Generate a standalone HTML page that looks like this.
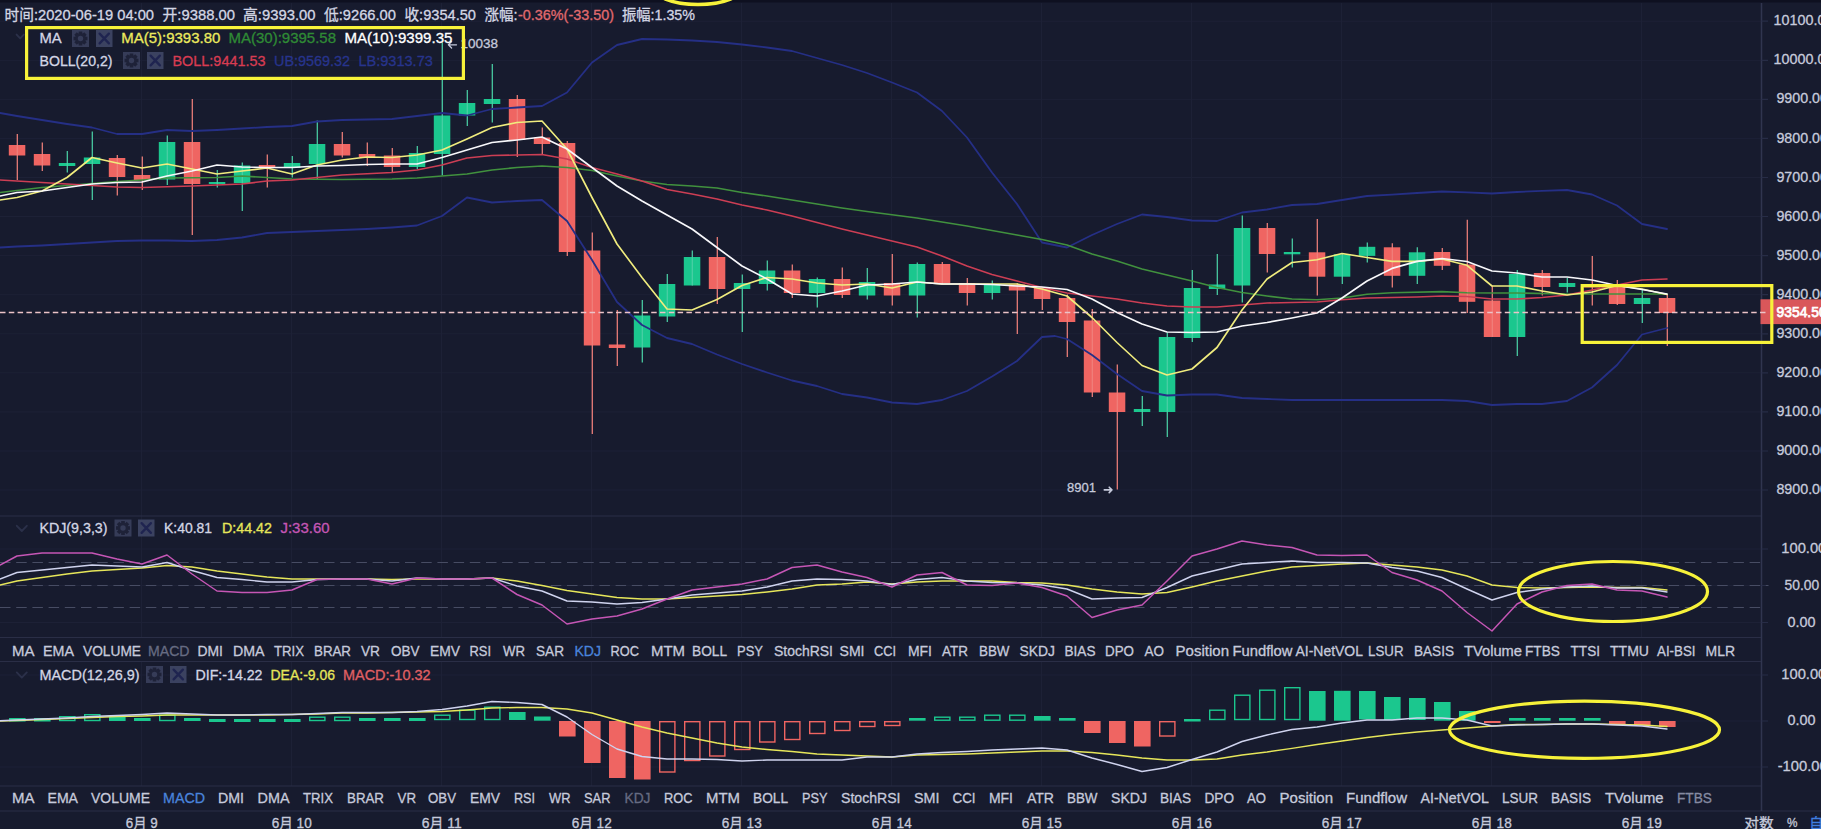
<!DOCTYPE html>
<html lang="zh"><head><meta charset="utf-8"><title>BTC 4H chart</title>
<style>html,body{margin:0;padding:0;background:#171b2e;overflow:hidden}svg text{white-space:pre}</style></head>
<body>
<svg width="1821" height="829" viewBox="0 0 1821 829" font-family='"Liberation Sans", "Noto Sans CJK SC", sans-serif' style="display:block">
<rect width="1821" height="829" fill="#171b2e"/>
<rect width="1821" height="2.5" fill="#0e1020"/>
<path d="M0 21.2H1761.5M0 60.3H1761.5M0 99.3H1761.5M0 138.4H1761.5M0 177.5H1761.5M0 216.5H1761.5M0 255.6H1761.5M0 294.7H1761.5M0 333.8H1761.5M0 372.8H1761.5M0 411.9H1761.5M0 451.0H1761.5M0 490.0H1761.5M0 549H1761.5M0 585.5H1761.5M0 622.5H1761.5M0 675H1761.5M0 721H1761.5M0 767H1761.5M141.5 3V637.5M141.5 661.5V786M291.5 3V637.5M291.5 661.5V786M441.5 3V637.5M441.5 661.5V786M591.5 3V637.5M591.5 661.5V786M741.5 3V637.5M741.5 661.5V786M891.5 3V637.5M891.5 661.5V786M1041.5 3V637.5M1041.5 661.5V786M1191.5 3V637.5M1191.5 661.5V786M1341.5 3V637.5M1341.5 661.5V786M1491.5 3V637.5M1491.5 661.5V786M1641.5 3V637.5M1641.5 661.5V786" stroke="#1d2136" stroke-width="1" fill="none"/>
<path d="M0 516H1761.5M0 637.5H1761.5M0 661.5H1761.5M0 786H1761.5M0 811H1821" stroke="#2a2e46" stroke-width="1" fill="none"/>
<path d="M1761.5 3V811" stroke="#30354f" stroke-width="1.5" fill="none"/>
<path d="M1761.5 21.2h6.5M1761.5 60.3h6.5M1761.5 99.3h6.5M1761.5 138.4h6.5M1761.5 177.5h6.5M1761.5 216.5h6.5M1761.5 255.6h6.5M1761.5 294.7h6.5M1761.5 333.8h6.5M1761.5 372.8h6.5M1761.5 411.9h6.5M1761.5 451.0h6.5M1761.5 490.0h6.5M1761.5 549h6.5M1761.5 585.5h6.5M1761.5 622.5h6.5M1761.5 675h6.5M1761.5 721h6.5M1761.5 767h6.5" stroke="#272c46" stroke-width="1.2" fill="none"/>
<rect x="8.8" y="145" width="16.5" height="10.5" fill="#ef6562"/>
<path d="M17.3 134V180" stroke="#f07f7b" stroke-width="1.25"/>
<rect x="33.8" y="154" width="16.5" height="11.5" fill="#ef6562"/>
<path d="M42.3 142.5V171" stroke="#f07f7b" stroke-width="1.25"/>
<rect x="58.8" y="163" width="16.5" height="3" fill="#1bc78e"/>
<path d="M67.3 151V172.5" stroke="#4acfa5" stroke-width="1.25"/>
<rect x="83.8" y="157.5" width="16.5" height="6.5" fill="#1bc78e"/>
<path d="M92.3 131.5V200" stroke="#4acfa5" stroke-width="1.25"/>
<rect x="108.8" y="158" width="16.5" height="19" fill="#ef6562"/>
<path d="M117.3 155V195.5" stroke="#f07f7b" stroke-width="1.25"/>
<rect x="133.8" y="175" width="16.5" height="5" fill="#ef6562"/>
<path d="M142.3 156.5V190" stroke="#f07f7b" stroke-width="1.25"/>
<rect x="158.8" y="142" width="16.5" height="37.5" fill="#1bc78e"/>
<path d="M167.3 135.5V185" stroke="#4acfa5" stroke-width="1.25"/>
<rect x="183.8" y="142" width="16.5" height="42" fill="#ef6562"/>
<path d="M192.3 99V235" stroke="#f07f7b" stroke-width="1.25"/>
<rect x="208.8" y="182" width="16.5" height="2" fill="#1bc78e"/>
<path d="M217.3 170V187.5" stroke="#4acfa5" stroke-width="1.25"/>
<rect x="233.8" y="165.5" width="16.5" height="17.5" fill="#1bc78e"/>
<path d="M242.3 162.5V211" stroke="#4acfa5" stroke-width="1.25"/>
<rect x="258.8" y="165" width="16.5" height="3" fill="#ef6562"/>
<path d="M267.3 154.5V187.5" stroke="#f07f7b" stroke-width="1.25"/>
<rect x="283.8" y="163" width="16.5" height="5" fill="#1bc78e"/>
<path d="M292.3 156V177.5" stroke="#4acfa5" stroke-width="1.25"/>
<rect x="308.8" y="144" width="16.5" height="20" fill="#1bc78e"/>
<path d="M317.3 120.5V180" stroke="#4acfa5" stroke-width="1.25"/>
<rect x="333.8" y="144" width="16.5" height="11.5" fill="#ef6562"/>
<path d="M342.3 132V157.5" stroke="#f07f7b" stroke-width="1.25"/>
<rect x="358.8" y="154" width="16.5" height="3" fill="#ef6562"/>
<path d="M367.3 142.5V166" stroke="#f07f7b" stroke-width="1.25"/>
<rect x="383.8" y="155.5" width="16.5" height="11.5" fill="#ef6562"/>
<path d="M392.3 148V172.5" stroke="#f07f7b" stroke-width="1.25"/>
<rect x="408.8" y="153" width="16.5" height="14" fill="#1bc78e"/>
<path d="M417.3 146V169" stroke="#4acfa5" stroke-width="1.25"/>
<rect x="433.8" y="115.5" width="16.5" height="38.5" fill="#1bc78e"/>
<path d="M442.3 42.5V175.5" stroke="#4acfa5" stroke-width="1.25"/>
<rect x="458.8" y="103" width="16.5" height="12.5" fill="#1bc78e"/>
<path d="M467.3 90V126" stroke="#4acfa5" stroke-width="1.25"/>
<rect x="483.8" y="99" width="16.5" height="5" fill="#1bc78e"/>
<path d="M492.3 64V122.5" stroke="#4acfa5" stroke-width="1.25"/>
<rect x="508.8" y="99" width="16.5" height="41" fill="#ef6562"/>
<path d="M517.3 95V157" stroke="#f07f7b" stroke-width="1.25"/>
<rect x="533.8" y="137.5" width="16.5" height="6.5" fill="#ef6562"/>
<path d="M542.3 127.5V154" stroke="#f07f7b" stroke-width="1.25"/>
<rect x="558.8" y="143" width="16.5" height="109" fill="#ef6562"/>
<path d="M567.3 141V256" stroke="#f07f7b" stroke-width="1.25"/>
<rect x="583.8" y="250.5" width="16.5" height="95" fill="#ef6562"/>
<path d="M592.3 232.5V434" stroke="#f07f7b" stroke-width="1.25"/>
<rect x="608.8" y="344.5" width="16.5" height="3.5" fill="#ef6562"/>
<path d="M617.3 310V366" stroke="#f07f7b" stroke-width="1.25"/>
<rect x="633.8" y="315.5" width="16.5" height="32" fill="#1bc78e"/>
<path d="M642.3 300V362.5" stroke="#4acfa5" stroke-width="1.25"/>
<rect x="658.8" y="284" width="16.5" height="32.5" fill="#1bc78e"/>
<path d="M667.3 274V322" stroke="#4acfa5" stroke-width="1.25"/>
<rect x="683.8" y="257" width="16.5" height="28.5" fill="#1bc78e"/>
<path d="M692.3 250.5V285.5" stroke="#4acfa5" stroke-width="1.25"/>
<rect x="708.8" y="257" width="16.5" height="32" fill="#ef6562"/>
<path d="M717.3 237V304" stroke="#f07f7b" stroke-width="1.25"/>
<rect x="733.8" y="283" width="16.5" height="6" fill="#1bc78e"/>
<path d="M742.3 274.5V332" stroke="#4acfa5" stroke-width="1.25"/>
<rect x="758.8" y="270.5" width="16.5" height="13.5" fill="#1bc78e"/>
<path d="M767.3 260.5V290.5" stroke="#4acfa5" stroke-width="1.25"/>
<rect x="783.8" y="270.5" width="16.5" height="22.5" fill="#ef6562"/>
<path d="M792.3 264.5V298" stroke="#f07f7b" stroke-width="1.25"/>
<rect x="808.8" y="279" width="16.5" height="14" fill="#1bc78e"/>
<path d="M817.3 277.5V307.5" stroke="#4acfa5" stroke-width="1.25"/>
<rect x="833.8" y="279" width="16.5" height="16" fill="#ef6562"/>
<path d="M842.3 267.5V298" stroke="#f07f7b" stroke-width="1.25"/>
<rect x="858.8" y="282" width="16.5" height="13.5" fill="#1bc78e"/>
<path d="M867.3 268V299.5" stroke="#4acfa5" stroke-width="1.25"/>
<rect x="883.8" y="283" width="16.5" height="12.5" fill="#ef6562"/>
<path d="M892.3 254V305.5" stroke="#f07f7b" stroke-width="1.25"/>
<rect x="908.8" y="264" width="16.5" height="31.5" fill="#1bc78e"/>
<path d="M917.3 262.5V317.5" stroke="#4acfa5" stroke-width="1.25"/>
<rect x="933.8" y="264" width="16.5" height="19" fill="#ef6562"/>
<path d="M942.3 262V284" stroke="#f07f7b" stroke-width="1.25"/>
<rect x="958.8" y="283" width="16.5" height="10" fill="#ef6562"/>
<path d="M967.3 278V305.5" stroke="#f07f7b" stroke-width="1.25"/>
<rect x="983.8" y="284" width="16.5" height="9" fill="#1bc78e"/>
<path d="M992.3 280.5V299.5" stroke="#4acfa5" stroke-width="1.25"/>
<rect x="1008.8" y="284.5" width="16.5" height="6" fill="#ef6562"/>
<path d="M1017.3 283V334" stroke="#f07f7b" stroke-width="1.25"/>
<rect x="1033.8" y="288" width="16.5" height="11" fill="#ef6562"/>
<path d="M1042.3 287.5V310" stroke="#f07f7b" stroke-width="1.25"/>
<rect x="1058.8" y="298" width="16.5" height="24" fill="#ef6562"/>
<path d="M1067.3 294.5V357" stroke="#f07f7b" stroke-width="1.25"/>
<rect x="1083.8" y="320.5" width="16.5" height="72" fill="#ef6562"/>
<path d="M1092.3 309V397" stroke="#f07f7b" stroke-width="1.25"/>
<rect x="1108.8" y="392.5" width="16.5" height="19.5" fill="#ef6562"/>
<path d="M1117.3 364.5V489.5" stroke="#f07f7b" stroke-width="1.25"/>
<rect x="1133.8" y="409" width="16.5" height="3" fill="#1bc78e"/>
<path d="M1142.3 396V426" stroke="#4acfa5" stroke-width="1.25"/>
<rect x="1158.8" y="337" width="16.5" height="75" fill="#1bc78e"/>
<path d="M1167.3 332.5V437" stroke="#4acfa5" stroke-width="1.25"/>
<rect x="1183.8" y="288" width="16.5" height="50" fill="#1bc78e"/>
<path d="M1192.3 270V342" stroke="#4acfa5" stroke-width="1.25"/>
<rect x="1208.8" y="284.5" width="16.5" height="4.5" fill="#1bc78e"/>
<path d="M1217.3 254V295" stroke="#4acfa5" stroke-width="1.25"/>
<rect x="1233.8" y="228" width="16.5" height="57.5" fill="#1bc78e"/>
<path d="M1242.3 215.5V302.5" stroke="#4acfa5" stroke-width="1.25"/>
<rect x="1258.8" y="228" width="16.5" height="26" fill="#ef6562"/>
<path d="M1267.3 223V272.5" stroke="#f07f7b" stroke-width="1.25"/>
<rect x="1283.8" y="252" width="16.5" height="2.3" fill="#1bc78e"/>
<path d="M1292.3 238.6V267.6" stroke="#4acfa5" stroke-width="1.25"/>
<rect x="1308.8" y="252.3" width="16.5" height="24.4" fill="#ef6562"/>
<path d="M1317.3 219V295.4" stroke="#f07f7b" stroke-width="1.25"/>
<rect x="1333.8" y="254.3" width="16.5" height="22.4" fill="#1bc78e"/>
<path d="M1342.3 253.5V284" stroke="#4acfa5" stroke-width="1.25"/>
<rect x="1358.8" y="246.8" width="16.5" height="9.1" fill="#1bc78e"/>
<path d="M1367.3 242.5V262.5" stroke="#4acfa5" stroke-width="1.25"/>
<rect x="1383.8" y="247.3" width="16.5" height="28.5" fill="#ef6562"/>
<path d="M1392.3 243.3V287.6" stroke="#f07f7b" stroke-width="1.25"/>
<rect x="1408.8" y="252.3" width="16.5" height="23.5" fill="#1bc78e"/>
<path d="M1417.3 247.3V284" stroke="#4acfa5" stroke-width="1.25"/>
<rect x="1433.8" y="252" width="16.5" height="13.8" fill="#ef6562"/>
<path d="M1442.3 248V270" stroke="#f07f7b" stroke-width="1.25"/>
<rect x="1458.8" y="264.5" width="16.5" height="37.3" fill="#ef6562"/>
<path d="M1467.3 219.8V313" stroke="#f07f7b" stroke-width="1.25"/>
<rect x="1483.8" y="300.5" width="16.5" height="36.5" fill="#ef6562"/>
<path d="M1492.3 286V337" stroke="#f07f7b" stroke-width="1.25"/>
<rect x="1508.8" y="274" width="16.5" height="63" fill="#1bc78e"/>
<path d="M1517.3 270V356" stroke="#4acfa5" stroke-width="1.25"/>
<rect x="1533.8" y="273" width="16.5" height="14" fill="#ef6562"/>
<path d="M1542.3 270V295.5" stroke="#f07f7b" stroke-width="1.25"/>
<rect x="1558.8" y="283" width="16.5" height="4" fill="#1bc78e"/>
<path d="M1567.3 278V292.5" stroke="#4acfa5" stroke-width="1.25"/>
<rect x="1583.8" y="285.5" width="16.5" height="2" fill="#ef6562"/>
<path d="M1592.3 256V305.5" stroke="#f07f7b" stroke-width="1.25"/>
<rect x="1608.8" y="285" width="16.5" height="19" fill="#ef6562"/>
<path d="M1617.3 280V305" stroke="#f07f7b" stroke-width="1.25"/>
<rect x="1633.8" y="298" width="16.5" height="6" fill="#1bc78e"/>
<path d="M1642.3 290V323" stroke="#4acfa5" stroke-width="1.25"/>
<rect x="1658.8" y="298" width="16.5" height="15" fill="#ef6562"/>
<path d="M1667.3 295V346" stroke="#f07f7b" stroke-width="1.25"/>
<polyline points="0,113 17,116 42,120 67,124 92,127.5 117,134 142,134 167,130 192,131 217,130 242,128.5 267,127 292,126 317,121.5 342,120 367,119.5 392,119 417,116 442,113 467,115.5 492,109 517,107.5 542,106 567,92.5 592,62.5 617,45 642,39 667,39.5 692,40.5 717,42 742,44.5 767,47.5 792,51 817,58 842,65 867,73 892,82.5 917,92.5 942,111 967,137.5 992,172.5 1017,204 1042,242.5 1067,247.5 1092,235 1117,224 1142,214.5 1167,217 1192,220.5 1217,221 1242,212.5 1267,209.5 1292,205 1317,204 1342,200 1367,196 1392,194.7 1417,193 1442,191.5 1467,192.4 1492,193.5 1517,192 1542,190.8 1567,190 1592,194.5 1617,205.5 1642,224 1667,229" fill="none" stroke="#252f85" stroke-width="1.8" stroke-linejoin="round" stroke-linecap="round" />
<polyline points="0,247.5 17,246.5 42,245.5 67,244 92,242.5 117,241 142,240.5 167,240.5 192,241 217,240 242,237.5 267,233 292,232 317,231 342,230 367,229 392,227.5 417,225.5 442,216 467,197.5 492,202.5 517,201 542,200 567,221 592,260 617,302 642,325 667,338 692,344 717,354.5 742,364 767,372.5 792,380.5 817,386 842,394 867,397.5 892,402.5 917,404 942,400 967,391 992,376.5 1017,361 1042,337 1055,336 1067,339 1092,355 1117,374 1142,391 1167,395.5 1192,394.5 1217,394.5 1242,398 1267,399 1292,400 1317,400 1342,400 1367,400 1392,400 1417,400 1442,400 1467,401 1492,405 1517,404 1542,404 1567,401 1592,387.5 1617,365 1642,334.5 1667,328" fill="none" stroke="#252f85" stroke-width="1.8" stroke-linejoin="round" stroke-linecap="round" />
<polyline points="0,192.5 42,187.5 67,185.5 92,183.5 117,181.5 142,180 167,178 217,177.5 242,176 267,177.5 292,179 342,179.5 392,179 417,178 442,176 467,174 492,170 517,167.5 542,166 567,167.5 592,170.5 617,176 642,181 667,184.5 692,186 717,188 742,192.5 767,196 792,200 817,204 842,208 867,211.5 917,218 967,226 1017,235 1042,239.5 1067,245 1092,254 1117,261 1142,269 1167,275 1192,281 1217,287.5 1242,292.5 1267,296 1292,299 1317,299.8 1342,298 1367,294.3 1392,292.7 1442,291.6 1467,292.7 1492,293 1517,293 1567,294 1617,294 1667,294" fill="none" stroke="#41913e" stroke-width="1.6" stroke-linejoin="round" stroke-linecap="round" />
<polyline points="0,180 42,182.5 92,185.5 117,187 142,187.5 192,186 242,184 267,181 292,180 317,177.5 342,175 392,172.5 417,170 442,165 467,158 492,155.5 517,155 542,154.5 567,159 592,167.5 617,174 642,181 667,189.5 692,194 717,199 742,205 767,210 792,216 817,222.5 842,229 867,235 892,241 917,247 942,256 967,266 992,274.5 1017,281 1042,287.5 1067,293 1092,296 1117,299 1142,303 1167,306 1192,307 1217,307 1242,305 1267,303 1292,302.5 1317,302 1342,299.8 1367,298 1392,297.5 1417,297 1442,296 1467,296.5 1492,299 1517,299 1542,297.5 1567,295 1592,290 1617,285 1642,280 1667,279" fill="none" stroke="#cc3e54" stroke-width="1.6" stroke-linejoin="round" stroke-linecap="round" />
<polyline points="0,200 17,197.5 42,191 67,177.5 92,157.5 117,163 142,168 167,164 192,169 217,174 242,171 267,168 292,174 317,165 342,160 367,157 392,157.5 417,155 442,150 467,139 492,127.5 517,122.5 542,121 567,149 592,197.5 617,244 642,277.5 667,309 692,310 717,299.5 742,285.5 767,277.5 792,279 817,283 842,285 867,284 892,288 917,282 942,284 967,284 992,284 1017,284 1042,289 1067,296 1092,317.5 1117,342.5 1142,365.5 1167,375 1192,369 1217,347.5 1242,310 1267,279 1292,262.5 1317,259.8 1342,253.5 1367,257.5 1392,261.4 1417,261.4 1442,259 1467,265.3 1492,286 1517,286 1542,291 1567,295 1592,292 1617,285.5 1642,289 1667,294.5" fill="none" stroke="#f0ec7e" stroke-width="1.65" stroke-linejoin="round" stroke-linecap="round" />
<polyline points="0,196 17,192.5 42,191 67,187.5 92,184 117,182.5 142,182 167,176 192,171 217,165 242,167 267,167.5 292,167.5 317,166 342,165.5 367,164.5 392,164 417,164 442,157.5 467,150 492,142.5 517,140 542,137 567,149 592,167.5 617,186 642,201 667,215 692,229 717,247.5 742,266 767,279 792,294 817,296 842,291 867,285 892,284 917,282 942,284 967,284 992,284.5 1017,286 1042,287 1067,289.5 1092,299 1117,312.5 1142,324 1167,332 1192,332.5 1217,332 1242,326 1267,322.5 1292,318 1317,313 1342,298 1367,281 1392,268.4 1417,261.4 1442,258.5 1467,261.5 1492,271 1517,273 1542,277 1567,277 1592,280 1617,285.5 1642,289.5 1667,294" fill="none" stroke="#f8f8fb" stroke-width="1.65" stroke-linejoin="round" stroke-linecap="round" />
<path d="M456.5 44.8h-8M451.6 41.6l-3.2 3.2 3.2 3.2" stroke="#c6cadb" stroke-width="1.3" fill="none" stroke-linecap="round" stroke-linejoin="round"/>
<text x="460.5" y="47.6" fill="#c6cadb" stroke="#c6cadb" stroke-width="0.3" font-size="13.5" textLength="37.5" lengthAdjust="spacingAndGlyphs">10038</text>
<text x="1067" y="492.4" fill="#c6cadb" stroke="#c6cadb" stroke-width="0.3" font-size="13.5" textLength="29" lengthAdjust="spacingAndGlyphs">8901</text>
<path d="M1104.3 489.9h7.4M1109.2 487.2l2.7 2.7-2.7 2.7" stroke="#c6cadb" stroke-width="1.6" fill="none" stroke-linecap="round" stroke-linejoin="round"/>
<path d="M0 562.5H1761.5M0 585.5H1768.5M0 607.5H1761.5" stroke="#474c63" stroke-width="1.1" stroke-dasharray="10.5 5.7" fill="none"/>
<polyline points="0,585 17,581 42,577.5 67,574 92,571 117,569.5 142,568 167,565.5 192,567 217,571 242,574 267,577 292,579 317,579 342,579 367,579 392,579.5 417,579 442,579 467,579 492,578 517,581 542,585.5 567,590.5 592,594 617,597.5 642,599 667,599 692,597.5 717,596 742,594.5 767,592 792,589 817,585 842,584 867,582 892,584 917,582 942,581 967,581 992,581 1017,582.5 1042,583 1067,585 1092,589 1117,592 1142,594 1167,592.5 1192,587 1217,581 1242,576 1267,571 1292,567 1317,565.5 1342,564 1367,563 1392,565 1417,567 1442,570 1467,576 1492,585 1517,587.5 1542,588 1567,587.5 1592,587 1617,587.5 1642,587.5 1667,590" fill="none" stroke="#e6e65a" stroke-width="1.4" stroke-linejoin="round" stroke-linecap="round" />
<polyline points="0,579 17,572.5 42,570 67,567.5 92,565 117,566 142,567 167,562.5 192,570.5 217,577.5 242,579.5 267,582 292,582 317,579.5 342,579 367,579 392,581 417,578 442,579 467,579 492,578 517,586 542,591 567,601 592,602 617,604 642,602.5 667,599 692,595 717,593 742,591 767,587 792,581 817,579 842,579.5 867,581 892,584.5 917,579.5 942,577.5 967,581 992,582.5 1017,583 1042,585 1067,589 1092,599 1117,598 1142,597.5 1167,587.5 1192,576 1217,570 1242,564 1267,562.5 1292,561 1317,562.5 1342,562.5 1367,563 1392,567.5 1417,571 1442,577.5 1467,589 1492,600 1517,592.5 1542,589 1567,587 1592,586 1617,588 1642,588 1667,592" fill="none" stroke="#cfd3ee" stroke-width="1.4" stroke-linejoin="round" stroke-linecap="round" />
<polyline points="0,565 17,556 42,553 67,553 92,553 117,559 142,564 167,555 192,574 217,591 242,592.5 267,592.5 292,590 317,579.5 342,579 367,579 392,584 417,578 442,579 467,579 492,578 517,594.5 542,605 567,624 592,619 617,616 642,609 667,599 692,590 717,587 742,584 767,579 792,567.5 817,565 842,572 867,577.5 892,587 917,575 942,572.5 967,585 992,585.5 1017,583 1042,587.5 1067,596 1092,617.5 1117,610 1142,605 1167,581 1192,556 1217,549 1242,541 1267,545 1292,547.5 1317,555 1342,555.5 1367,555 1392,572.5 1417,580 1442,591 1467,612.5 1492,631 1517,604 1542,592 1567,585.5 1592,584 1617,590 1642,591 1667,597" fill="none" stroke="#c556b5" stroke-width="1.5" stroke-linejoin="round" stroke-linecap="round" />
<rect x="9" y="718" width="16.6" height="3.5" fill="#1bc78e"/>
<rect x="34" y="718" width="16.6" height="3.5" fill="#1bc78e"/>
<rect x="59.7" y="716.7" width="15.2" height="3.8" fill="none" stroke="#1bc78e" stroke-width="1.4"/>
<rect x="84.7" y="714.7" width="15.2" height="5.8" fill="none" stroke="#1bc78e" stroke-width="1.4"/>
<rect x="109" y="716" width="16.6" height="5" fill="#1bc78e"/>
<rect x="134" y="718" width="16.6" height="3" fill="#1bc78e"/>
<rect x="159.7" y="715.2" width="15.2" height="5.3" fill="none" stroke="#1bc78e" stroke-width="1.4"/>
<rect x="184" y="718" width="16.6" height="3" fill="#1bc78e"/>
<rect x="209" y="719" width="16.6" height="3" fill="#1bc78e"/>
<rect x="234" y="719" width="16.6" height="3" fill="#1bc78e"/>
<rect x="259" y="719" width="16.6" height="3" fill="#1bc78e"/>
<rect x="284" y="719" width="16.6" height="3" fill="#1bc78e"/>
<rect x="309.7" y="717.2" width="15.2" height="3.3" fill="none" stroke="#1bc78e" stroke-width="1.4"/>
<rect x="334.7" y="717.2" width="15.2" height="3.3" fill="none" stroke="#1bc78e" stroke-width="1.4"/>
<rect x="359" y="718" width="16.6" height="3" fill="#1bc78e"/>
<rect x="384" y="718" width="16.6" height="3" fill="#1bc78e"/>
<rect x="409" y="718" width="16.6" height="3" fill="#1bc78e"/>
<rect x="434.7" y="715.2" width="15.2" height="4.3" fill="none" stroke="#1bc78e" stroke-width="1.4"/>
<rect x="459.7" y="710.2" width="15.2" height="9.3" fill="none" stroke="#1bc78e" stroke-width="1.4"/>
<rect x="484.7" y="707.2" width="15.2" height="12.3" fill="none" stroke="#1bc78e" stroke-width="1.4"/>
<rect x="509" y="712" width="16.6" height="8" fill="#1bc78e"/>
<rect x="534" y="716.5" width="16.6" height="4.2" fill="#1bc78e"/>
<rect x="559" y="721" width="16.6" height="15.5" fill="#ef6562"/>
<rect x="584" y="721" width="16.6" height="42" fill="#ef6562"/>
<rect x="609" y="721" width="16.6" height="57" fill="#ef6562"/>
<rect x="634" y="721" width="16.6" height="58.5" fill="#ef6562"/>
<rect x="659.7" y="721.7" width="15.2" height="50.3" fill="none" stroke="#ef6562" stroke-width="1.4"/>
<rect x="684.7" y="721.7" width="15.2" height="38.8" fill="none" stroke="#ef6562" stroke-width="1.4"/>
<rect x="709.7" y="721.7" width="15.2" height="34.3" fill="none" stroke="#ef6562" stroke-width="1.4"/>
<rect x="734.7" y="721.7" width="15.2" height="27.8" fill="none" stroke="#ef6562" stroke-width="1.4"/>
<rect x="759.7" y="721.7" width="15.2" height="20.3" fill="none" stroke="#ef6562" stroke-width="1.4"/>
<rect x="784.7" y="721.7" width="15.2" height="17.8" fill="none" stroke="#ef6562" stroke-width="1.4"/>
<rect x="809.7" y="721.7" width="15.2" height="11.8" fill="none" stroke="#ef6562" stroke-width="1.4"/>
<rect x="834.7" y="721.7" width="15.2" height="8.8" fill="none" stroke="#ef6562" stroke-width="1.4"/>
<rect x="859.7" y="721.7" width="15.2" height="4.8" fill="none" stroke="#ef6562" stroke-width="1.4"/>
<rect x="884.7" y="721.7" width="15.2" height="3.8" fill="none" stroke="#ef6562" stroke-width="1.4"/>
<rect x="909" y="718" width="16.6" height="2.7" fill="#1bc78e"/>
<rect x="934.7" y="717.2" width="15.2" height="3" fill="none" stroke="#1bc78e" stroke-width="1.4"/>
<rect x="959.7" y="717.2" width="15.2" height="3" fill="none" stroke="#1bc78e" stroke-width="1.4"/>
<rect x="984.7" y="715.2" width="15.2" height="5" fill="none" stroke="#1bc78e" stroke-width="1.4"/>
<rect x="1009.7" y="715.2" width="15.2" height="5" fill="none" stroke="#1bc78e" stroke-width="1.4"/>
<rect x="1034" y="716" width="16.6" height="4.7" fill="#1bc78e"/>
<rect x="1059" y="718" width="16.6" height="2.7" fill="#1bc78e"/>
<rect x="1084" y="721" width="16.6" height="12" fill="#ef6562"/>
<rect x="1109" y="721" width="16.6" height="22" fill="#ef6562"/>
<rect x="1134" y="721" width="16.6" height="25.5" fill="#ef6562"/>
<rect x="1159.7" y="721.7" width="15.2" height="14.3" fill="none" stroke="#ef6562" stroke-width="1.4"/>
<rect x="1184" y="719" width="16.6" height="2.5" fill="#1bc78e"/>
<rect x="1209.7" y="710.2" width="15.2" height="9.3" fill="none" stroke="#1bc78e" stroke-width="1.4"/>
<rect x="1234.7" y="695.2" width="15.2" height="24.3" fill="none" stroke="#1bc78e" stroke-width="1.4"/>
<rect x="1259.7" y="690.2" width="15.2" height="29.3" fill="none" stroke="#1bc78e" stroke-width="1.4"/>
<rect x="1284.7" y="687.7" width="15.2" height="31.8" fill="none" stroke="#1bc78e" stroke-width="1.4"/>
<rect x="1309" y="691" width="16.6" height="29.7" fill="#1bc78e"/>
<rect x="1334" y="690.8" width="16.6" height="29.9" fill="#1bc78e"/>
<rect x="1359" y="691" width="16.6" height="28.5" fill="#1bc78e"/>
<rect x="1384" y="697" width="16.6" height="23" fill="#1bc78e"/>
<rect x="1409" y="698" width="16.6" height="22" fill="#1bc78e"/>
<rect x="1434" y="702" width="16.6" height="18.7" fill="#1bc78e"/>
<rect x="1459" y="711" width="16.6" height="9.7" fill="#1bc78e"/>
<rect x="1484" y="721" width="16.6" height="2" fill="#ef6562"/>
<rect x="1509" y="718" width="16.6" height="2.7" fill="#1bc78e"/>
<rect x="1534" y="718" width="16.6" height="2.7" fill="#1bc78e"/>
<rect x="1559" y="718" width="16.6" height="2.7" fill="#1bc78e"/>
<rect x="1584" y="718" width="16.6" height="2.7" fill="#1bc78e"/>
<rect x="1609" y="721" width="16.6" height="4" fill="#ef6562"/>
<rect x="1634" y="721" width="16.6" height="4" fill="#ef6562"/>
<rect x="1659" y="721" width="16.6" height="6" fill="#ef6562"/>
<polyline points="0,721 17,720.5 42,719.5 67,718.5 92,717.5 117,716.5 142,716 167,715 192,715 217,715 242,715 267,715 292,714.5 317,714 342,713 367,713 392,712.5 417,712 442,711.5 467,710 492,708 517,707.5 542,707.5 567,709 592,713 617,720 642,727 667,733 692,738 717,743 742,747 767,749.5 792,751.5 817,754 842,755 867,756 892,757 917,755 942,754.5 967,754 992,753 1017,752 1042,751 1067,751 1092,752.5 1117,755 1142,758 1167,760 1192,760 1217,759 1242,755 1267,752 1292,748.4 1317,744.5 1342,741 1367,737.5 1392,734.5 1417,732 1442,730 1467,728 1492,726 1517,724.5 1542,724.5 1567,724 1592,724 1617,724.5 1642,725 1667,726.5" fill="none" stroke="#e6e65a" stroke-width="1.4" stroke-linejoin="round" stroke-linecap="round" />
<polyline points="0,720.7 17,720 42,719 67,718 92,716.5 117,715.5 142,714.5 167,713 192,714 217,715 242,715 267,714.5 292,714.5 317,713.5 342,712.5 367,712.5 392,712.5 417,711.5 442,709.5 467,706 492,701.5 517,702.5 542,704.5 567,717 592,734.5 617,749 642,756.5 667,759 692,759 717,759.5 742,761 767,760 792,760 817,760 842,760 867,757 892,757 917,754 942,752.5 967,751.5 992,750 1017,749 1042,748 1067,750 1092,758 1117,764.5 1142,771.5 1167,767.5 1192,759.5 1217,752 1242,741.5 1267,735 1292,729.5 1317,727 1342,723 1367,720 1392,720 1417,718 1442,718 1467,720 1492,726 1517,725 1542,724.5 1567,724 1592,724 1617,725 1642,726 1667,729" fill="none" stroke="#cfd3ee" stroke-width="1.4" stroke-linejoin="round" stroke-linecap="round" />
<rect x="1760.5" y="299.3" width="60.5" height="24.8" fill="#d9575a"/>
<path d="M0 312.5H1768.5" stroke="#ecc3c8" stroke-width="1.3" stroke-dasharray="5.5 3.3" fill="none"/>
<text x="1773.6" y="25.3" fill="#c6cadb" stroke="#c6cadb" stroke-width="0.3" font-size="14.5" textLength="59.8" lengthAdjust="spacingAndGlyphs">10100.00</text>
<text x="1773.6" y="64.4" fill="#c6cadb" stroke="#c6cadb" stroke-width="0.3" font-size="14.5" textLength="59.8" lengthAdjust="spacingAndGlyphs">10000.00</text>
<text x="1776.4" y="103.4" fill="#c6cadb" stroke="#c6cadb" stroke-width="0.3" font-size="14.5" textLength="51.6" lengthAdjust="spacingAndGlyphs">9900.00</text>
<text x="1776.4" y="142.5" fill="#c6cadb" stroke="#c6cadb" stroke-width="0.3" font-size="14.5" textLength="51.6" lengthAdjust="spacingAndGlyphs">9800.00</text>
<text x="1776.4" y="181.6" fill="#c6cadb" stroke="#c6cadb" stroke-width="0.3" font-size="14.5" textLength="51.6" lengthAdjust="spacingAndGlyphs">9700.00</text>
<text x="1776.4" y="220.6" fill="#c6cadb" stroke="#c6cadb" stroke-width="0.3" font-size="14.5" textLength="51.6" lengthAdjust="spacingAndGlyphs">9600.00</text>
<text x="1776.4" y="259.7" fill="#c6cadb" stroke="#c6cadb" stroke-width="0.3" font-size="14.5" textLength="51.6" lengthAdjust="spacingAndGlyphs">9500.00</text>
<text x="1776.4" y="298.8" fill="#c6cadb" stroke="#c6cadb" stroke-width="0.3" font-size="14.5" textLength="51.6" lengthAdjust="spacingAndGlyphs">9400.00</text>
<text x="1776.4" y="337.9" fill="#c6cadb" stroke="#c6cadb" stroke-width="0.3" font-size="14.5" textLength="51.6" lengthAdjust="spacingAndGlyphs">9300.00</text>
<text x="1776.4" y="376.9" fill="#c6cadb" stroke="#c6cadb" stroke-width="0.3" font-size="14.5" textLength="51.6" lengthAdjust="spacingAndGlyphs">9200.00</text>
<text x="1776.4" y="416.0" fill="#c6cadb" stroke="#c6cadb" stroke-width="0.3" font-size="14.5" textLength="51.6" lengthAdjust="spacingAndGlyphs">9100.00</text>
<text x="1776.4" y="455.1" fill="#c6cadb" stroke="#c6cadb" stroke-width="0.3" font-size="14.5" textLength="51.6" lengthAdjust="spacingAndGlyphs">9000.00</text>
<text x="1776.4" y="494.1" fill="#c6cadb" stroke="#c6cadb" stroke-width="0.3" font-size="14.5" textLength="51.6" lengthAdjust="spacingAndGlyphs">8900.00</text>
<text x="1776.6" y="317.1" fill="#ffffff" stroke="#ffffff" stroke-width="0.75" font-size="14.5" textLength="50" lengthAdjust="spacingAndGlyphs">9354.50</text>
<text x="1781.3" y="553.2" fill="#c6cadb" stroke="#c6cadb" stroke-width="0.3" font-size="14.5" textLength="45" lengthAdjust="spacingAndGlyphs">100.00</text>
<text x="1784.6" y="589.7" fill="#c6cadb" stroke="#c6cadb" stroke-width="0.3" font-size="14.5" textLength="34.6" lengthAdjust="spacingAndGlyphs">50.00</text>
<text x="1787.5" y="626.7" fill="#c6cadb" stroke="#c6cadb" stroke-width="0.3" font-size="14.5" textLength="28" lengthAdjust="spacingAndGlyphs">0.00</text>
<text x="1781.3" y="679.2" fill="#c6cadb" stroke="#c6cadb" stroke-width="0.3" font-size="14.5" textLength="45" lengthAdjust="spacingAndGlyphs">100.00</text>
<text x="1787.5" y="725.2" fill="#c6cadb" stroke="#c6cadb" stroke-width="0.3" font-size="14.5" textLength="28" lengthAdjust="spacingAndGlyphs">0.00</text>
<text x="1777.7" y="771.2" fill="#c6cadb" stroke="#c6cadb" stroke-width="0.3" font-size="14.5" textLength="50" lengthAdjust="spacingAndGlyphs">-100.00</text>
<text x="4.5" y="19.7" fill="#d3d6e4" stroke="#d3d6e4" stroke-width="0.3" font-size="14.5" textLength="149.5" lengthAdjust="spacingAndGlyphs">时间:2020-06-19 04:00</text>
<text x="162.5" y="19.7" fill="#d3d6e4" stroke="#d3d6e4" stroke-width="0.3" font-size="14.5" textLength="72.5" lengthAdjust="spacingAndGlyphs">开:9388.00</text>
<text x="243" y="19.7" fill="#d3d6e4" stroke="#d3d6e4" stroke-width="0.3" font-size="14.5" textLength="72.5" lengthAdjust="spacingAndGlyphs">高:9393.00</text>
<text x="324" y="19.7" fill="#d3d6e4" stroke="#d3d6e4" stroke-width="0.3" font-size="14.5" textLength="72" lengthAdjust="spacingAndGlyphs">低:9266.00</text>
<text x="404.5" y="19.7" fill="#d3d6e4" stroke="#d3d6e4" stroke-width="0.3" font-size="14.5" textLength="71.5" lengthAdjust="spacingAndGlyphs">收:9354.50</text>
<text x="484.5" y="19.7" fill="#d3d6e4" stroke="#d3d6e4" stroke-width="0.3" font-size="14.5" textLength="33" lengthAdjust="spacingAndGlyphs">涨幅:</text>
<text x="518" y="19.7" fill="#e06a6e" stroke="#e06a6e" stroke-width="0.3" font-size="14.5" textLength="96" lengthAdjust="spacingAndGlyphs">-0.36%(-33.50)</text>
<text x="622" y="19.7" fill="#d3d6e4" stroke="#d3d6e4" stroke-width="0.3" font-size="14.5" textLength="73" lengthAdjust="spacingAndGlyphs">振幅:1.35%</text>
<path d="M16.6 34.6l3.6 3.8000000000000003 3.6-3.8000000000000003" stroke="#2b3049" stroke-width="1.9" fill="none" stroke-linecap="round" stroke-linejoin="round"/>
<text x="39.5" y="42.7" fill="#d3d6e4" stroke="#d3d6e4" stroke-width="0.3" font-size="14.5" textLength="22.2" lengthAdjust="spacingAndGlyphs">MA</text>
<rect x="72" y="30" width="17" height="17" fill="#363c58"/>
<rect x="78.7" y="31.5" width="3.6" height="14" fill="#1e2238" transform="rotate(0 80.5 38.5)"/><rect x="78.7" y="31.5" width="3.6" height="14" fill="#1e2238" transform="rotate(45 80.5 38.5)"/><rect x="78.7" y="31.5" width="3.6" height="14" fill="#1e2238" transform="rotate(90 80.5 38.5)"/><rect x="78.7" y="31.5" width="3.6" height="14" fill="#1e2238" transform="rotate(135 80.5 38.5)"/>
<circle cx="80.5" cy="38.5" r="5.4" fill="#1e2238"/><circle cx="80.5" cy="38.5" r="2.7" fill="#363c58"/>
<rect x="96" y="30" width="16.5" height="17.0" fill="#3b4260"/>
<path d="M99.6 33.6L108.9 43.4M108.9 33.6L99.6 43.4" stroke="#1f2450" stroke-width="2.3" stroke-linecap="round"/>
<text x="121.3" y="42.7" fill="#ecea5e" stroke="#ecea5e" stroke-width="0.3" font-size="14.5" textLength="99" lengthAdjust="spacingAndGlyphs">MA(5):9393.80</text>
<text x="228.5" y="42.7" fill="#2f8a35" stroke="#2f8a35" stroke-width="0.3" font-size="14.5" textLength="107.5" lengthAdjust="spacingAndGlyphs">MA(30):9395.58</text>
<text x="344.4" y="42.7" fill="#ffffff" stroke="#ffffff" stroke-width="0.3" font-size="14.5" textLength="108" lengthAdjust="spacingAndGlyphs">MA(10):9399.35</text>
<text x="39.5" y="65.8" fill="#d3d6e4" stroke="#d3d6e4" stroke-width="0.3" font-size="14.5" textLength="73" lengthAdjust="spacingAndGlyphs">BOLL(20,2)</text>
<rect x="123" y="52" width="17" height="17" fill="#363c58"/>
<rect x="129.7" y="53.5" width="3.6" height="14" fill="#1e2238" transform="rotate(0 131.5 60.5)"/><rect x="129.7" y="53.5" width="3.6" height="14" fill="#1e2238" transform="rotate(45 131.5 60.5)"/><rect x="129.7" y="53.5" width="3.6" height="14" fill="#1e2238" transform="rotate(90 131.5 60.5)"/><rect x="129.7" y="53.5" width="3.6" height="14" fill="#1e2238" transform="rotate(135 131.5 60.5)"/>
<circle cx="131.5" cy="60.5" r="5.4" fill="#1e2238"/><circle cx="131.5" cy="60.5" r="2.7" fill="#363c58"/>
<rect x="147" y="52" width="16.5" height="17.0" fill="#3b4260"/>
<path d="M150.6 55.6L159.9 65.4M159.9 55.6L150.6 65.4" stroke="#1f2450" stroke-width="2.3" stroke-linecap="round"/>
<text x="172.5" y="65.8" fill="#d83c52" stroke="#d83c52" stroke-width="0.3" font-size="14.5" textLength="93" lengthAdjust="spacingAndGlyphs">BOLL:9441.53</text>
<text x="274" y="65.8" fill="#27348c" stroke="#27348c" stroke-width="0.3" font-size="14.5" textLength="76" lengthAdjust="spacingAndGlyphs">UB:9569.32</text>
<text x="358.5" y="65.8" fill="#27348c" stroke="#27348c" stroke-width="0.3" font-size="14.5" textLength="74.3" lengthAdjust="spacingAndGlyphs">LB:9313.73</text>
<path d="M16.8 525.8l5 5.2 5-5.2" stroke="#2b3049" stroke-width="1.9" fill="none" stroke-linecap="round" stroke-linejoin="round"/>
<text x="39.5" y="533.2" fill="#d3d6e4" stroke="#d3d6e4" stroke-width="0.3" font-size="14.5" textLength="68" lengthAdjust="spacingAndGlyphs">KDJ(9,3,3)</text>
<rect x="114.5" y="519.5" width="17" height="17" fill="#363c58"/>
<rect x="121.2" y="521" width="3.6" height="14" fill="#1e2238" transform="rotate(0 123 528)"/><rect x="121.2" y="521" width="3.6" height="14" fill="#1e2238" transform="rotate(45 123 528)"/><rect x="121.2" y="521" width="3.6" height="14" fill="#1e2238" transform="rotate(90 123 528)"/><rect x="121.2" y="521" width="3.6" height="14" fill="#1e2238" transform="rotate(135 123 528)"/>
<circle cx="123" cy="528" r="5.4" fill="#1e2238"/><circle cx="123" cy="528" r="2.7" fill="#363c58"/>
<rect x="138" y="519.5" width="16.5" height="17.0" fill="#3b4260"/>
<path d="M141.6 523.1L150.9 532.9M150.9 523.1L141.6 532.9" stroke="#1f2450" stroke-width="2.3" stroke-linecap="round"/>
<text x="164" y="533.2" fill="#d3d6e4" stroke="#d3d6e4" stroke-width="0.3" font-size="14.5" textLength="48" lengthAdjust="spacingAndGlyphs">K:40.81</text>
<text x="222" y="533.2" fill="#e6e65a" stroke="#e6e65a" stroke-width="0.3" font-size="14.5" textLength="50" lengthAdjust="spacingAndGlyphs">D:44.42</text>
<text x="280.5" y="533.2" fill="#c556b5" stroke="#c556b5" stroke-width="0.3" font-size="14.5" textLength="49" lengthAdjust="spacingAndGlyphs">J:33.60</text>
<path d="M16.8 672.4l5 5.2 5-5.2" stroke="#2b3049" stroke-width="1.9" fill="none" stroke-linecap="round" stroke-linejoin="round"/>
<text x="39.5" y="679.7" fill="#d3d6e4" stroke="#d3d6e4" stroke-width="0.3" font-size="14.5" textLength="100" lengthAdjust="spacingAndGlyphs">MACD(12,26,9)</text>
<rect x="146" y="666" width="17" height="17" fill="#363c58"/>
<rect x="152.7" y="667.5" width="3.6" height="14" fill="#1e2238" transform="rotate(0 154.5 674.5)"/><rect x="152.7" y="667.5" width="3.6" height="14" fill="#1e2238" transform="rotate(45 154.5 674.5)"/><rect x="152.7" y="667.5" width="3.6" height="14" fill="#1e2238" transform="rotate(90 154.5 674.5)"/><rect x="152.7" y="667.5" width="3.6" height="14" fill="#1e2238" transform="rotate(135 154.5 674.5)"/>
<circle cx="154.5" cy="674.5" r="5.4" fill="#1e2238"/><circle cx="154.5" cy="674.5" r="2.7" fill="#363c58"/>
<rect x="170" y="666" width="16.5" height="17.0" fill="#3b4260"/>
<path d="M173.6 669.6L182.9 679.4M182.9 669.6L173.6 679.4" stroke="#1f2450" stroke-width="2.3" stroke-linecap="round"/>
<text x="195.5" y="679.7" fill="#d3d6e4" stroke="#d3d6e4" stroke-width="0.3" font-size="14.5" textLength="67" lengthAdjust="spacingAndGlyphs">DIF:-14.22</text>
<text x="270.5" y="679.7" fill="#e6e65a" stroke="#e6e65a" stroke-width="0.3" font-size="14.5" textLength="64.5" lengthAdjust="spacingAndGlyphs">DEA:-9.06</text>
<text x="343" y="679.7" fill="#e06064" stroke="#e06064" stroke-width="0.3" font-size="14.5" textLength="87.5" lengthAdjust="spacingAndGlyphs">MACD:-10.32</text>
<text x="12" y="656.0" fill="#c6cadb" stroke="#c6cadb" stroke-width="0.3" font-size="14.5" textLength="22.5" lengthAdjust="spacingAndGlyphs">MA</text>
<text x="43" y="656.0" fill="#c6cadb" stroke="#c6cadb" stroke-width="0.3" font-size="14.5" textLength="31" lengthAdjust="spacingAndGlyphs">EMA</text>
<text x="83" y="656.0" fill="#c6cadb" stroke="#c6cadb" stroke-width="0.3" font-size="14.5" textLength="58" lengthAdjust="spacingAndGlyphs">VOLUME</text>
<text x="148" y="656.0" fill="#666b82" stroke="#666b82" stroke-width="0.3" font-size="14.5" textLength="41.5" lengthAdjust="spacingAndGlyphs">MACD</text>
<text x="197.5" y="656.0" fill="#c6cadb" stroke="#c6cadb" stroke-width="0.3" font-size="14.5" textLength="25.5" lengthAdjust="spacingAndGlyphs">DMI</text>
<text x="233" y="656.0" fill="#c6cadb" stroke="#c6cadb" stroke-width="0.3" font-size="14.5" textLength="31.5" lengthAdjust="spacingAndGlyphs">DMA</text>
<text x="274" y="656.0" fill="#c6cadb" stroke="#c6cadb" stroke-width="0.3" font-size="14.5" textLength="30" lengthAdjust="spacingAndGlyphs">TRIX</text>
<text x="314" y="656.0" fill="#c6cadb" stroke="#c6cadb" stroke-width="0.3" font-size="14.5" textLength="37" lengthAdjust="spacingAndGlyphs">BRAR</text>
<text x="361" y="656.0" fill="#c6cadb" stroke="#c6cadb" stroke-width="0.3" font-size="14.5" textLength="19" lengthAdjust="spacingAndGlyphs">VR</text>
<text x="391" y="656.0" fill="#c6cadb" stroke="#c6cadb" stroke-width="0.3" font-size="14.5" textLength="28.5" lengthAdjust="spacingAndGlyphs">OBV</text>
<text x="430" y="656.0" fill="#c6cadb" stroke="#c6cadb" stroke-width="0.3" font-size="14.5" textLength="30" lengthAdjust="spacingAndGlyphs">EMV</text>
<text x="469.5" y="656.0" fill="#c6cadb" stroke="#c6cadb" stroke-width="0.3" font-size="14.5" textLength="21.5" lengthAdjust="spacingAndGlyphs">RSI</text>
<text x="503" y="656.0" fill="#c6cadb" stroke="#c6cadb" stroke-width="0.3" font-size="14.5" textLength="22" lengthAdjust="spacingAndGlyphs">WR</text>
<text x="536" y="656.0" fill="#c6cadb" stroke="#c6cadb" stroke-width="0.3" font-size="14.5" textLength="28" lengthAdjust="spacingAndGlyphs">SAR</text>
<text x="574.5" y="656.0" fill="#4a84dc" stroke="#4a84dc" stroke-width="0.3" font-size="14.5" textLength="26.5" lengthAdjust="spacingAndGlyphs">KDJ</text>
<text x="610.5" y="656.0" fill="#c6cadb" stroke="#c6cadb" stroke-width="0.3" font-size="14.5" textLength="28.5" lengthAdjust="spacingAndGlyphs">ROC</text>
<text x="651" y="656.0" fill="#c6cadb" stroke="#c6cadb" stroke-width="0.3" font-size="14.5" textLength="34" lengthAdjust="spacingAndGlyphs">MTM</text>
<text x="692" y="656.0" fill="#c6cadb" stroke="#c6cadb" stroke-width="0.3" font-size="14.5" textLength="35" lengthAdjust="spacingAndGlyphs">BOLL</text>
<text x="737" y="656.0" fill="#c6cadb" stroke="#c6cadb" stroke-width="0.3" font-size="14.5" textLength="26" lengthAdjust="spacingAndGlyphs">PSY</text>
<text x="774" y="656.0" fill="#c6cadb" stroke="#c6cadb" stroke-width="0.3" font-size="14.5" textLength="59" lengthAdjust="spacingAndGlyphs">StochRSI</text>
<text x="839.5" y="656.0" fill="#c6cadb" stroke="#c6cadb" stroke-width="0.3" font-size="14.5" textLength="25" lengthAdjust="spacingAndGlyphs">SMI</text>
<text x="874" y="656.0" fill="#c6cadb" stroke="#c6cadb" stroke-width="0.3" font-size="14.5" textLength="22" lengthAdjust="spacingAndGlyphs">CCI</text>
<text x="908" y="656.0" fill="#c6cadb" stroke="#c6cadb" stroke-width="0.3" font-size="14.5" textLength="24" lengthAdjust="spacingAndGlyphs">MFI</text>
<text x="942" y="656.0" fill="#c6cadb" stroke="#c6cadb" stroke-width="0.3" font-size="14.5" textLength="26" lengthAdjust="spacingAndGlyphs">ATR</text>
<text x="979" y="656.0" fill="#c6cadb" stroke="#c6cadb" stroke-width="0.3" font-size="14.5" textLength="30.5" lengthAdjust="spacingAndGlyphs">BBW</text>
<text x="1019.5" y="656.0" fill="#c6cadb" stroke="#c6cadb" stroke-width="0.3" font-size="14.5" textLength="35.5" lengthAdjust="spacingAndGlyphs">SKDJ</text>
<text x="1064.5" y="656.0" fill="#c6cadb" stroke="#c6cadb" stroke-width="0.3" font-size="14.5" textLength="31" lengthAdjust="spacingAndGlyphs">BIAS</text>
<text x="1105" y="656.0" fill="#c6cadb" stroke="#c6cadb" stroke-width="0.3" font-size="14.5" textLength="29" lengthAdjust="spacingAndGlyphs">DPO</text>
<text x="1144.5" y="656.0" fill="#c6cadb" stroke="#c6cadb" stroke-width="0.3" font-size="14.5" textLength="19.5" lengthAdjust="spacingAndGlyphs">AO</text>
<text x="1175.5" y="656.0" fill="#c6cadb" stroke="#c6cadb" stroke-width="0.3" font-size="14.5" textLength="53.5" lengthAdjust="spacingAndGlyphs">Position</text>
<text x="1232.5" y="656.0" fill="#c6cadb" stroke="#c6cadb" stroke-width="0.3" font-size="14.5" textLength="60" lengthAdjust="spacingAndGlyphs">Fundflow</text>
<text x="1295.5" y="656.0" fill="#c6cadb" stroke="#c6cadb" stroke-width="0.3" font-size="14.5" textLength="67.5" lengthAdjust="spacingAndGlyphs">AI-NetVOL</text>
<text x="1368" y="656.0" fill="#c6cadb" stroke="#c6cadb" stroke-width="0.3" font-size="14.5" textLength="35.5" lengthAdjust="spacingAndGlyphs">LSUR</text>
<text x="1414" y="656.0" fill="#c6cadb" stroke="#c6cadb" stroke-width="0.3" font-size="14.5" textLength="40" lengthAdjust="spacingAndGlyphs">BASIS</text>
<text x="1464" y="656.0" fill="#c6cadb" stroke="#c6cadb" stroke-width="0.3" font-size="14.5" textLength="58" lengthAdjust="spacingAndGlyphs">TVolume</text>
<text x="1525" y="656.0" fill="#c6cadb" stroke="#c6cadb" stroke-width="0.3" font-size="14.5" textLength="35" lengthAdjust="spacingAndGlyphs">FTBS</text>
<text x="1570.5" y="656.0" fill="#c6cadb" stroke="#c6cadb" stroke-width="0.3" font-size="14.5" textLength="29.5" lengthAdjust="spacingAndGlyphs">TTSI</text>
<text x="1610" y="656.0" fill="#c6cadb" stroke="#c6cadb" stroke-width="0.3" font-size="14.5" textLength="39" lengthAdjust="spacingAndGlyphs">TTMU</text>
<text x="1657" y="656.0" fill="#c6cadb" stroke="#c6cadb" stroke-width="0.3" font-size="14.5" textLength="38.5" lengthAdjust="spacingAndGlyphs">AI-BSI</text>
<text x="1705.5" y="656.0" fill="#c6cadb" stroke="#c6cadb" stroke-width="0.3" font-size="14.5" textLength="29.5" lengthAdjust="spacingAndGlyphs">MLR</text>
<text x="12" y="803.2" fill="#c6cadb" stroke="#c6cadb" stroke-width="0.3" font-size="14.5" textLength="22.5" lengthAdjust="spacingAndGlyphs">MA</text>
<text x="47.5" y="803.2" fill="#c6cadb" stroke="#c6cadb" stroke-width="0.3" font-size="14.5" textLength="30.5" lengthAdjust="spacingAndGlyphs">EMA</text>
<text x="91" y="803.2" fill="#c6cadb" stroke="#c6cadb" stroke-width="0.3" font-size="14.5" textLength="59" lengthAdjust="spacingAndGlyphs">VOLUME</text>
<text x="163" y="803.2" fill="#4a84dc" stroke="#4a84dc" stroke-width="0.3" font-size="14.5" textLength="42" lengthAdjust="spacingAndGlyphs">MACD</text>
<text x="218" y="803.2" fill="#c6cadb" stroke="#c6cadb" stroke-width="0.3" font-size="14.5" textLength="26" lengthAdjust="spacingAndGlyphs">DMI</text>
<text x="257.5" y="803.2" fill="#c6cadb" stroke="#c6cadb" stroke-width="0.3" font-size="14.5" textLength="32" lengthAdjust="spacingAndGlyphs">DMA</text>
<text x="303" y="803.2" fill="#c6cadb" stroke="#c6cadb" stroke-width="0.3" font-size="14.5" textLength="30" lengthAdjust="spacingAndGlyphs">TRIX</text>
<text x="347" y="803.2" fill="#c6cadb" stroke="#c6cadb" stroke-width="0.3" font-size="14.5" textLength="37" lengthAdjust="spacingAndGlyphs">BRAR</text>
<text x="397.5" y="803.2" fill="#c6cadb" stroke="#c6cadb" stroke-width="0.3" font-size="14.5" textLength="18.5" lengthAdjust="spacingAndGlyphs">VR</text>
<text x="428" y="803.2" fill="#c6cadb" stroke="#c6cadb" stroke-width="0.3" font-size="14.5" textLength="28" lengthAdjust="spacingAndGlyphs">OBV</text>
<text x="470" y="803.2" fill="#c6cadb" stroke="#c6cadb" stroke-width="0.3" font-size="14.5" textLength="30" lengthAdjust="spacingAndGlyphs">EMV</text>
<text x="514" y="803.2" fill="#c6cadb" stroke="#c6cadb" stroke-width="0.3" font-size="14.5" textLength="21" lengthAdjust="spacingAndGlyphs">RSI</text>
<text x="549" y="803.2" fill="#c6cadb" stroke="#c6cadb" stroke-width="0.3" font-size="14.5" textLength="21.5" lengthAdjust="spacingAndGlyphs">WR</text>
<text x="584" y="803.2" fill="#c6cadb" stroke="#c6cadb" stroke-width="0.3" font-size="14.5" textLength="26.5" lengthAdjust="spacingAndGlyphs">SAR</text>
<text x="624.5" y="803.2" fill="#666b82" stroke="#666b82" stroke-width="0.3" font-size="14.5" textLength="26" lengthAdjust="spacingAndGlyphs">KDJ</text>
<text x="664" y="803.2" fill="#c6cadb" stroke="#c6cadb" stroke-width="0.3" font-size="14.5" textLength="28.5" lengthAdjust="spacingAndGlyphs">ROC</text>
<text x="706" y="803.2" fill="#c6cadb" stroke="#c6cadb" stroke-width="0.3" font-size="14.5" textLength="34" lengthAdjust="spacingAndGlyphs">MTM</text>
<text x="753" y="803.2" fill="#c6cadb" stroke="#c6cadb" stroke-width="0.3" font-size="14.5" textLength="35" lengthAdjust="spacingAndGlyphs">BOLL</text>
<text x="802" y="803.2" fill="#c6cadb" stroke="#c6cadb" stroke-width="0.3" font-size="14.5" textLength="25.5" lengthAdjust="spacingAndGlyphs">PSY</text>
<text x="841" y="803.2" fill="#c6cadb" stroke="#c6cadb" stroke-width="0.3" font-size="14.5" textLength="59.5" lengthAdjust="spacingAndGlyphs">StochRSI</text>
<text x="914" y="803.2" fill="#c6cadb" stroke="#c6cadb" stroke-width="0.3" font-size="14.5" textLength="25.5" lengthAdjust="spacingAndGlyphs">SMI</text>
<text x="952.5" y="803.2" fill="#c6cadb" stroke="#c6cadb" stroke-width="0.3" font-size="14.5" textLength="23" lengthAdjust="spacingAndGlyphs">CCI</text>
<text x="989" y="803.2" fill="#c6cadb" stroke="#c6cadb" stroke-width="0.3" font-size="14.5" textLength="24" lengthAdjust="spacingAndGlyphs">MFI</text>
<text x="1027" y="803.2" fill="#c6cadb" stroke="#c6cadb" stroke-width="0.3" font-size="14.5" textLength="27" lengthAdjust="spacingAndGlyphs">ATR</text>
<text x="1067" y="803.2" fill="#c6cadb" stroke="#c6cadb" stroke-width="0.3" font-size="14.5" textLength="30.5" lengthAdjust="spacingAndGlyphs">BBW</text>
<text x="1111" y="803.2" fill="#c6cadb" stroke="#c6cadb" stroke-width="0.3" font-size="14.5" textLength="36" lengthAdjust="spacingAndGlyphs">SKDJ</text>
<text x="1160" y="803.2" fill="#c6cadb" stroke="#c6cadb" stroke-width="0.3" font-size="14.5" textLength="31" lengthAdjust="spacingAndGlyphs">BIAS</text>
<text x="1204.5" y="803.2" fill="#c6cadb" stroke="#c6cadb" stroke-width="0.3" font-size="14.5" textLength="29.5" lengthAdjust="spacingAndGlyphs">DPO</text>
<text x="1247" y="803.2" fill="#c6cadb" stroke="#c6cadb" stroke-width="0.3" font-size="14.5" textLength="19" lengthAdjust="spacingAndGlyphs">AO</text>
<text x="1279.5" y="803.2" fill="#c6cadb" stroke="#c6cadb" stroke-width="0.3" font-size="14.5" textLength="53.5" lengthAdjust="spacingAndGlyphs">Position</text>
<text x="1346" y="803.2" fill="#c6cadb" stroke="#c6cadb" stroke-width="0.3" font-size="14.5" textLength="61" lengthAdjust="spacingAndGlyphs">Fundflow</text>
<text x="1420.5" y="803.2" fill="#c6cadb" stroke="#c6cadb" stroke-width="0.3" font-size="14.5" textLength="68.5" lengthAdjust="spacingAndGlyphs">AI-NetVOL</text>
<text x="1502" y="803.2" fill="#c6cadb" stroke="#c6cadb" stroke-width="0.3" font-size="14.5" textLength="36" lengthAdjust="spacingAndGlyphs">LSUR</text>
<text x="1551" y="803.2" fill="#c6cadb" stroke="#c6cadb" stroke-width="0.3" font-size="14.5" textLength="40" lengthAdjust="spacingAndGlyphs">BASIS</text>
<text x="1605" y="803.2" fill="#c6cadb" stroke="#c6cadb" stroke-width="0.3" font-size="14.5" textLength="58.5" lengthAdjust="spacingAndGlyphs">TVolume</text>
<text x="1677" y="803.2" fill="#858aa1" stroke="#858aa1" stroke-width="0.3" font-size="14.5" textLength="35" lengthAdjust="spacingAndGlyphs">FTBS</text>
<text x="125.7" y="827.6" fill="#c6cadb" stroke="#c6cadb" stroke-width="0.3" font-size="14" textLength="32" lengthAdjust="spacingAndGlyphs">6月 9</text>
<text x="271.7" y="827.6" fill="#c6cadb" stroke="#c6cadb" stroke-width="0.3" font-size="14" textLength="40" lengthAdjust="spacingAndGlyphs">6月 10</text>
<text x="421.7" y="827.6" fill="#c6cadb" stroke="#c6cadb" stroke-width="0.3" font-size="14" textLength="40" lengthAdjust="spacingAndGlyphs">6月 11</text>
<text x="571.7" y="827.6" fill="#c6cadb" stroke="#c6cadb" stroke-width="0.3" font-size="14" textLength="40" lengthAdjust="spacingAndGlyphs">6月 12</text>
<text x="721.7" y="827.6" fill="#c6cadb" stroke="#c6cadb" stroke-width="0.3" font-size="14" textLength="40" lengthAdjust="spacingAndGlyphs">6月 13</text>
<text x="871.7" y="827.6" fill="#c6cadb" stroke="#c6cadb" stroke-width="0.3" font-size="14" textLength="40" lengthAdjust="spacingAndGlyphs">6月 14</text>
<text x="1021.7" y="827.6" fill="#c6cadb" stroke="#c6cadb" stroke-width="0.3" font-size="14" textLength="40" lengthAdjust="spacingAndGlyphs">6月 15</text>
<text x="1171.7" y="827.6" fill="#c6cadb" stroke="#c6cadb" stroke-width="0.3" font-size="14" textLength="40" lengthAdjust="spacingAndGlyphs">6月 16</text>
<text x="1321.7" y="827.6" fill="#c6cadb" stroke="#c6cadb" stroke-width="0.3" font-size="14" textLength="40" lengthAdjust="spacingAndGlyphs">6月 17</text>
<text x="1471.7" y="827.6" fill="#c6cadb" stroke="#c6cadb" stroke-width="0.3" font-size="14" textLength="40" lengthAdjust="spacingAndGlyphs">6月 18</text>
<text x="1621.7" y="827.6" fill="#c6cadb" stroke="#c6cadb" stroke-width="0.3" font-size="14" textLength="40" lengthAdjust="spacingAndGlyphs">6月 19</text>
<text x="1744.3" y="827.6" fill="#c6cadb" stroke="#c6cadb" stroke-width="0.3" font-size="14" textLength="29.5" lengthAdjust="spacingAndGlyphs">对数</text>
<text x="1787" y="827.3" fill="#c6cadb" stroke="#c6cadb" stroke-width="0.3" font-size="13" textLength="10.5" lengthAdjust="spacingAndGlyphs">%</text>
<text x="1809.3" y="827.6" fill="#3f7ee0" stroke="#3f7ee0" stroke-width="0.3" font-size="14">自</text>
<rect x="26.6" y="27.6" width="436.8" height="50.8" fill="none" stroke="#f7f23a" stroke-width="3.2"/>
<rect x="1582.2" y="285.6" width="189.6" height="56.8" fill="none" stroke="#f7f23a" stroke-width="3.2"/>
<ellipse cx="1613" cy="591.5" rx="94.5" ry="30" fill="none" stroke="#f7f23a" stroke-width="3.2"/>
<ellipse cx="1584.5" cy="729.8" rx="135" ry="28.6" fill="none" stroke="#f7f23a" stroke-width="3.2"/>
<ellipse cx="698" cy="-14" rx="46" ry="18.5" fill="none" stroke="#f7f23a" stroke-width="3.4"/>
</svg>
</body></html>
